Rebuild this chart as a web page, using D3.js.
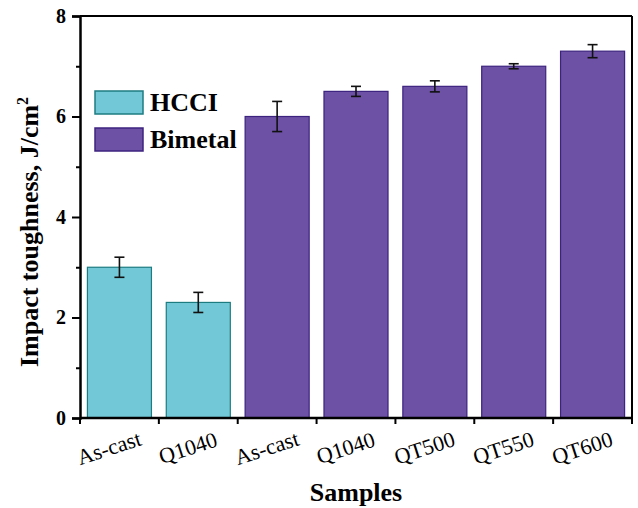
<!DOCTYPE html>
<html>
<head>
<meta charset="utf-8">
<script src="https://cdn.jsdelivr.net/npm/d3@7"></script>
<style>
  body { margin: 0; background: #fff; }
  text { font-family: "Liberation Serif", "Times New Roman", serif; }
</style>
</head>
<body>
<div id="chart"></div>
<script>
// sample names, in drawing order
const samples = ['As-cast', 'Q1040', 'As-cast', 'Q1040', 'QT500', 'QT550', 'QT600'];
const groups = ['HCCI', 'HCCI', 'Bimetal', 'Bimetal', 'Bimetal', 'Bimetal', 'Bimetal'];
const toughness = [3.0, 2.3, 6.0, 6.5, 6.6, 7.0, 7.3];
const errors = [0.2, 0.2, 0.3, 0.1, 0.11, 0.05, 0.13];
const legendItems = ['HCCI', 'Bimetal'];
const yTicks = [0, 2, 4, 6, 8];

const width = 638, height = 508;
const margin = {top: 16, right: 6, bottom: 90, left: 80};
const w = width - margin.left - margin.right,
      h = height - margin.top - margin.bottom;

const fill = {HCCI: '#72c8d7', Bimetal: '#6c51a4'};
const edge = {HCCI: '#1c7c80', Bimetal: '#3c237f'};

const svg = d3.select('#chart').append('svg')
    .attr('width', width)
    .attr('height', height);

const g = svg.append('g')
    .attr('transform', 'translate(' + margin.left + ',' + margin.top + ')');

const data = samples.map((s, i) => ({key: i, name: s, group: groups[i], v: toughness[i], e: errors[i]}));

const x = d3.scaleBand()
    .domain(data.map(d => d.key))
    .range([0, w])
    .paddingInner(0.188)
    .paddingOuter(0.094);

const y = d3.scaleLinear().domain([0, 8]).range([h, 0]);

// bars
g.selectAll('rect.bar')
    .data(data)
    .enter().append('rect')
    .attr('class', 'bar')
    .attr('x', d => x(d.key))
    .attr('y', d => y(d.v))
    .attr('width', x.bandwidth())
    .attr('height', d => h - y(d.v))
    .attr('fill', d => fill[d.group])
    .attr('stroke', d => edge[d.group])
    .attr('stroke-width', 1.2);

// error bars
const eb = g.selectAll('g.err').data(data).enter().append('g')
    .attr('class', 'err')
    .attr('stroke', '#111')
    .attr('stroke-width', 1.6);
eb.append('line')
    .attr('x1', d => x(d.key) + x.bandwidth() / 2)
    .attr('x2', d => x(d.key) + x.bandwidth() / 2)
    .attr('y1', d => y(d.v + d.e))
    .attr('y2', d => y(d.v - d.e));
eb.selectAll('line.cap')
    .data(d => [d.v + d.e, d.v - d.e].map(t => ({c: x(d.key) + x.bandwidth() / 2, t: t})))
    .enter().append('line')
    .attr('class', 'cap')
    .attr('x1', d => d.c - 5)
    .attr('x2', d => d.c + 5)
    .attr('y1', d => y(d.t))
    .attr('y2', d => y(d.t));

// frame top and right
g.append('line').attr('x1', 0).attr('x2', w).attr('y1', 0).attr('y2', 0)
    .attr('stroke', '#000').attr('stroke-width', 2);
g.append('line').attr('x1', w).attr('x2', w).attr('y1', 0).attr('y2', h)
    .attr('stroke', '#000').attr('stroke-width', 2);

// y axis
const yAxis = g.append('g')
    .call(d3.axisLeft(y).tickValues(yTicks).tickSize(8).tickPadding(6).tickFormat(d3.format('d')));
yAxis.selectAll('text')
    .style('font-size', '20px')
    .style('font-weight', 'bold')
    .attr('fill', '#000');
const yMinor = g.append('g')
    .call(d3.axisLeft(y).tickValues([1, 3, 5, 7]).tickSize(4).tickFormat(''));
yMinor.select('.domain').remove();
g.selectAll('.tick line').attr('stroke-width', 2);
yAxis.select('.domain').attr('stroke-width', 2.5);

// x axis: ticks at band boundaries, labels under each bar
const step = x.step();
const xEdges = d3.range(samples.length + 1).map(i => i * step);
const xb = g.append('g').attr('transform', 'translate(0,' + h + ')');
xb.append('line').attr('x1', 0).attr('x2', w).attr('y1', 0).attr('y2', 0)
    .attr('stroke', '#000').attr('stroke-width', 2.5);
xb.selectAll('line.tk').data(xEdges).enter().append('line')
    .attr('class', 'tk')
    .attr('x1', d => d).attr('x2', d => d)
    .attr('y1', 0).attr('y2', 6)
    .attr('stroke', '#000').attr('stroke-width', 2);
xb.selectAll('text.lbl').data(data).enter().append('text')
    .attr('class', 'lbl')
    .attr('transform', d => 'translate(' + (x(d.key) + x.bandwidth() / 2 - 8) + ',37) rotate(-18)')
    .attr('text-anchor', 'middle')
    .style('font-size', '22px')
    .text(d => d.name);

// axis titles
svg.append('text')
    .attr('transform', 'translate(38,' + (margin.top + 216) + ') rotate(-90)')
    .attr('text-anchor', 'middle')
    .style('font-size', '26px')
    .style('font-weight', 'bold')
    .html('Impact toughness, J/cm<tspan dy="-10" font-size="16px">2</tspan>');

svg.append('text')
    .attr('x', margin.left + w / 2)
    .attr('y', 501)
    .attr('text-anchor', 'middle')
    .style('font-size', '26px')
    .style('font-weight', 'bold')
    .text('Samples');

// legend
const lg = g.append('g').attr('transform', 'translate(15,75)');
const li = lg.selectAll('g').data(legendItems).enter().append('g')
    .attr('transform', (d, i) => 'translate(0,' + i * 37 + ')');
li.append('rect')
    .attr('width', 48).attr('height', 23)
    .attr('fill', d => fill[d])
    .attr('stroke', d => edge[d])
    .attr('stroke-width', 1.5);
li.append('text')
    .attr('x', 55).attr('y', 20)
    .style('font-size', '26px')
    .style('font-weight', 'bold')
    .text(d => d);
</script>
</body>
</html>
